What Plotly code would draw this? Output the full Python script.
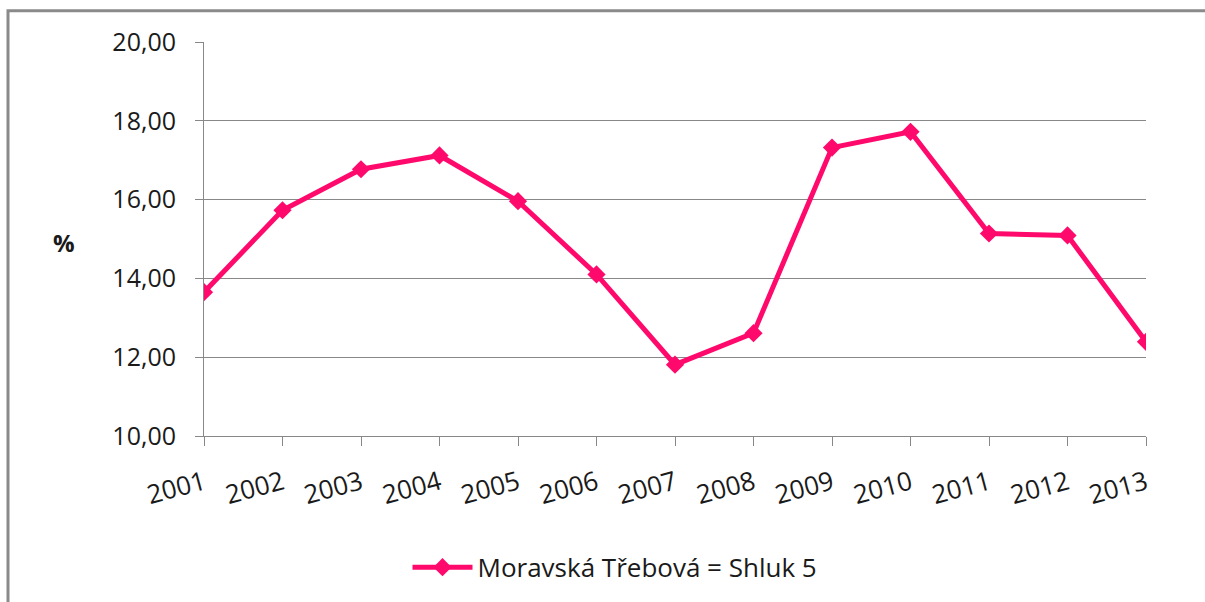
import plotly.graph_objects as go

years = [2001, 2002, 2003, 2004, 2005, 2006, 2007, 2008, 2009, 2010, 2011, 2012, 2013]
values = [13.65, 15.73, 16.77, 17.12, 15.96, 14.10, 11.81, 12.61, 17.32, 17.72, 15.14, 15.09, 12.39]
year_labels = [str(y) for y in years]
y_ticks = [10, 12, 14, 16, 18, 20]
y_tick_labels = ["10,00", "12,00", "14,00", "16,00", "18,00", "20,00"]
series_name = "Moravská Třebová = Shluk 5"

W, H = 1205, 602
L, R, T, B = 204, 1146, 41.7, 435.7
PINK = "#FF0A6C"
GRID = "#888888"
FONT = "Open Sans"
TXT = "#1a1a1a"

fig = go.Figure()
fig.add_trace(go.Scatter(
    x=years, y=values, mode="lines+markers", name=series_name,
    line=dict(color=PINK, width=5),
    marker=dict(symbol="diamond", size=14, color=PINK),
))

fig.update_layout(
    width=W, height=H,
    margin=dict(l=L, r=W - R, t=T, b=H - B, pad=0, autoexpand=False),
    paper_bgcolor="white", plot_bgcolor="white",
    font=dict(family=FONT, color=TXT, size=23),
    showlegend=True,
    legend=dict(
        orientation="h", x=(615 - L) / (R - L), xanchor="center",
        y=(B - 567) / (B - T), yanchor="middle",
        font=dict(family=FONT, size=26, color=TXT),
        itemwidth=60, bgcolor="rgba(0,0,0,0)",
    ),
    xaxis=dict(
        range=[2001, 2013], tickvals=years, ticktext=year_labels,
        tickangle=-15, showgrid=False, zeroline=False,
        showline=True, linecolor=GRID, linewidth=1,
        ticks="outside", ticklen=9, tickcolor=GRID, tickwidth=1,
        ticklabelstandoff=12,
        tickfont=dict(family=FONT, size=26, color=TXT),
    ),
    yaxis=dict(
        range=[10, 20], tickvals=y_ticks, ticktext=y_tick_labels,
        showgrid=True, gridcolor=GRID, gridwidth=1, zeroline=False,
        showline=True, linecolor=GRID, linewidth=1,
        ticks="outside", ticklen=8, tickcolor=GRID, tickwidth=1,
        ticklabelstandoff=14,
        tickfont=dict(family=FONT, size=25, color=TXT),
    ),
    annotations=[dict(
        text="<b>%</b>", xref="paper", yref="paper",
        x=(64 - L) / (R - L), y=(B - 242) / (B - T),
        xanchor="center", yanchor="middle", showarrow=False,
        font=dict(family=FONT, size=24, color=TXT),
    )],
    shapes=[dict(
        type="rect", xref="paper", yref="paper",
        x0=(8 - L) / (R - L), x1=(1215 - L) / (R - L),
        y0=(B - 615) / (B - T), y1=(B - 10.5) / (B - T),
        line=dict(color="#8a8a8a", width=3), fillcolor="rgba(0,0,0,0)",
        layer="below",
    )],
)

fig.write_html("out.html", config={"displayModeBar": False},
               post_script="document.body.style.margin='0';")
